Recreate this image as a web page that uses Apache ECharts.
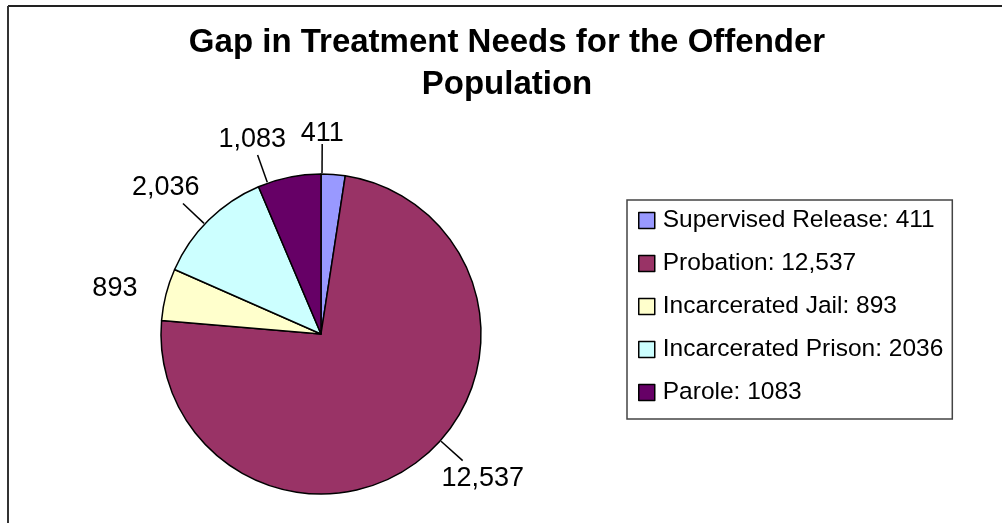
<!DOCTYPE html>
<html>
<head>
<meta charset="utf-8">
<script src="https://cdn.jsdelivr.net/npm/echarts@6/dist/echarts.min.js"></script>
<style>
  html, body { margin: 0; padding: 0; background: #fff; }
  #chart { width: 1002px; height: 523px; }
</style>
</head>
<body>
<div id="chart"></div>
<script>
// Offender groups and the size of each treatment gap
const categories = [
  'Supervised Release: 411',
  'Probation: 12,537',
  'Incarcerated Jail: 893',
  'Incarcerated Prison: 2036',
  'Parole: 1083'
];
const values = [411, 12537, 893, 2036, 1083];
const colors = ['#9999FF', '#993366', '#FFFFCC', '#CCFFFF', '#660066'];

// Label placement tweaks (degrees, clockwise) so neighbouring labels do not collide
const labelNudge = [-4, -10, -2, -2, -8];
// Slices whose label sits close enough to go without a leader line
const noLeader = ['Incarcerated Jail: 893'];

const CX = 321, CY = 334, R = 160, LABEL_GAP = 27;
const total = values.reduce((a, b) => a + b, 0);
const midAngles = [];
let acc = 0;
values.forEach(v => {
  midAngles.push((acc + v / 2) / total * 360);
  acc += v;
});

function polar(rad, deg) {
  const a = deg * Math.PI / 180;
  return [CX + rad * Math.sin(a), CY - rad * Math.cos(a)];
}

const chart = echarts.init(document.getElementById('chart'), null, { renderer: 'canvas' });

const option = {
  backgroundColor: '#ffffff',
  animation: false,
  title: {
    text: 'Gap in Treatment Needs for the Offender\nPopulation',
    left: 507,
    top: 22,
    textAlign: 'center',
    padding: 0,
    textStyle: {
      fontFamily: 'Liberation Sans, Arial, sans-serif',
      fontSize: 33,
      fontWeight: 'bold',
      color: '#000',
      lineHeight: 42
    }
  },
  legend: {
    orient: 'vertical',
    left: 627,
    top: 200,
    data: categories,
    selectedMode: false,
    icon: 'rect',
    itemWidth: 16,
    itemHeight: 16,
    itemGap: 18,
    padding: [8, 9, 14, 11],
    borderColor: '#444',
    borderWidth: 1.5,
    backgroundColor: '#fff',
    itemStyle: { borderColor: '#000', borderWidth: 1.5 },
    textStyle: {
      fontFamily: 'Liberation Sans, Arial, sans-serif',
      fontSize: 24.5,
      lineHeight: 24.7,
      color: '#000',
      padding: [0, 0, 0, 3]
    }
  },
  graphic: [
    { type: 'line', shape: { x1: 8, y1: 6, x2: 1002, y2: 6 }, style: { stroke: '#222', lineWidth: 2 } },
    { type: 'line', shape: { x1: 8, y1: 6, x2: 8, y2: 523 }, style: { stroke: '#333', lineWidth: 2 } }
  ],
  series: [{
    type: 'pie',
    center: [CX, CY],
    radius: R,
    startAngle: 90,
    clockwise: true,
    avoidLabelOverlap: false,
    itemStyle: { borderColor: '#000', borderWidth: 1.5 },
    label: {
      show: true,
      position: 'outside',
      fontFamily: 'Liberation Sans, Arial, sans-serif',
      fontSize: 27,
      color: '#000',
      formatter: p => p.value.toLocaleString('en-US')
    },
    labelLine: {
      show: true,
      length: 28,
      length2: 0,
      lineStyle: { color: '#000', width: 1.5 }
    },
    labelLayout: function (params) {
      const i = params.dataIndex;
      const ang = midAngles[i] + labelNudge[i];
      const a = ang * Math.PI / 180;
      const ux = Math.abs(Math.sin(a)), uy = Math.abs(Math.cos(a));
      const w = params.labelRect.width, h = params.labelRect.height;
      // how far the label box reaches back towards the pie along the ray
      const rayExit = Math.min(
        ux > 1e-6 ? (w / 2) / ux : Infinity,
        uy > 1e-6 ? (h / 2) / uy : Infinity
      );
      const support = ux * w / 2 + uy * h / 2;
      const proj = (rayExit + support) / 2;
      const c = polar(R + LABEL_GAP + proj, ang);
      const p0 = polar(R + 1, ang);
      const p1 = polar(R + 30, ang);
      return {
        x: c[0],
        y: c[1],
        align: 'center',
        verticalAlign: 'middle',
        labelLinePoints: [p0, p1, p1]
      };
    },
    data: categories.map((name, i) => ({
      name: name,
      value: values[i],
      itemStyle: { color: colors[i] },
      labelLine: { show: !noLeader.includes(name) }
    }))
  }]
};

chart.setOption(option);
</script>
</body>
</html>
